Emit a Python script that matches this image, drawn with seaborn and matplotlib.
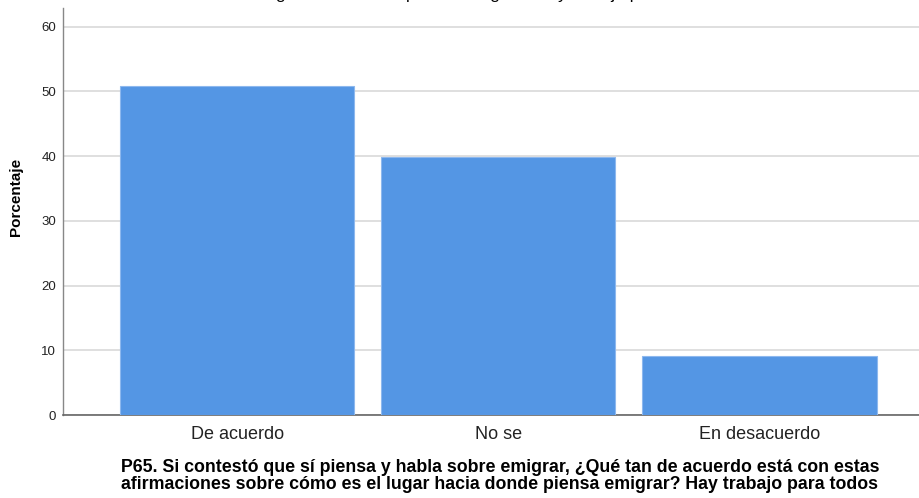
import matplotlib
matplotlib.use("Agg")
import matplotlib.pyplot as plt
import seaborn as sns
import pandas as pd

categorias = ["De acuerdo", "No se", "En desacuerdo"]
porcentajes = [50.9, 39.8, 9.1]
y_ticks = [0, 10, 20, 30, 40, 50, 60]
titulo = "el lugar hacia donde piensa emigrar? Hay trabajo para todos"
x_label = ("P65. Si contestó que sí piensa y habla sobre emigrar, ¿Qué tan de acuerdo está con estas\n"
           "afirmaciones sobre cómo es el lugar hacia donde piensa emigrar? Hay trabajo para todos")
y_label = "Porcentaje"

sns.set_theme(style="white")
plt.rcParams["font.family"] = ["Liberation Sans", "DejaVu Sans"]

df = pd.DataFrame({"cat": categorias, "pct": porcentajes})

fig = plt.figure(figsize=(9.19, 4.98), dpi=100)
ax = fig.add_axes([63 / 919, 83 / 498, 1 - 63 / 919, (415 - 8) / 498])

sns.barplot(data=df, x="cat", y="pct", color="#5496E4", saturation=1,
            width=0.897, edgecolor="#8DB8EE", linewidth=0.8, ax=ax, zorder=3)

ax.set_ylim(0, 62.9)
ax.set_xlim(-0.667, 2.611)
ax.set_yticks(y_ticks)
ax.yaxis.grid(True, color="#D9D9D9", linewidth=1.2, zorder=0)
ax.set_axisbelow(True)
for s in ["top", "right"]:
    ax.spines[s].set_visible(False)
ax.spines["left"].set_color("#888888")
ax.spines["bottom"].set_color("#666666")
ax.spines["left"].set_linewidth(1.0)
ax.spines["bottom"].set_linewidth(1.2)
ax.tick_params(axis="y", length=0, pad=5, labelsize=9.5, colors="#222222")
ax.tick_params(axis="x", length=0, pad=8, labelsize=13, colors="#222222")
ax.set_xlabel(x_label, fontsize=12.8, fontweight="bold", linespacing=1.0, color="black")
ax.xaxis.set_label_coords(0.5105, -0.109)
ax.set_ylabel(y_label, fontsize=11, fontweight="bold", color="black")
ax.yaxis.set_label_coords(-0.0467, 0.535)

fig.text(0.52, 1.0 + 1 / 498, titulo, ha="center", va="baseline", fontsize=12.5, color="black")

fig.savefig("out.png", dpi=100)
